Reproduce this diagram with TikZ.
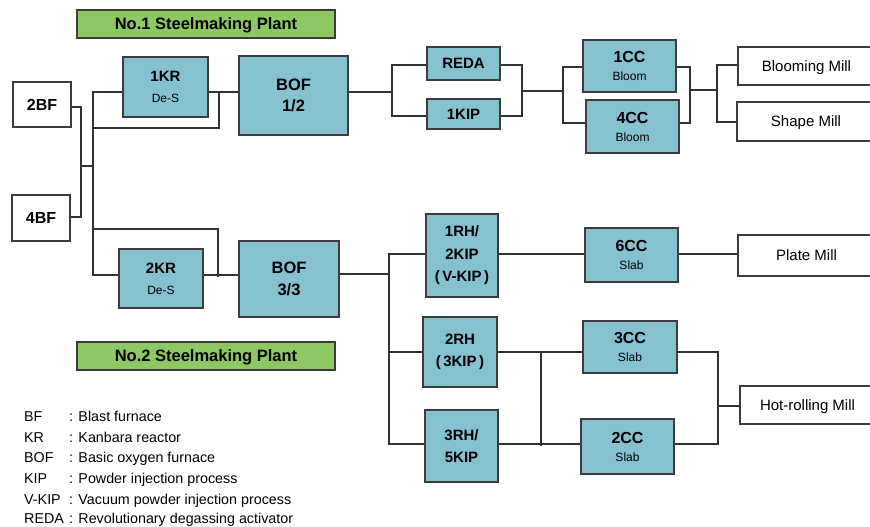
\documentclass[tikz,border=0pt]{standalone}
\usepackage{fontspec}
\setmainfont{Liberation Sans}
\definecolor{boxblue}{RGB}{134,193,208}
\definecolor{plantgreen}{RGB}{141,200,98}
\definecolor{edgec}{RGB}{60,60,60}
\definecolor{linec}{RGB}{50,50,50}
\newcommand\subtxt{\mdseries\fontsize{12}{18}\selectfont}
\begin{document}
\begin{tikzpicture}[x=1pt,y=-1pt,
  wh/.style 2 args={minimum width=#1pt,minimum height=#2pt},
  box/.style={draw=edgec,fill=boxblue,line width=1.4pt,inner sep=0pt,align=center,
    font=\bfseries\fontsize{15}{21}\selectfont},
  wbox/.style={draw=edgec,fill=white,line width=1.4pt,inner sep=0pt,align=center,text depth=0pt},
  title/.style={draw=edgec,fill=plantgreen,line width=1.4pt,inner sep=0pt,
    font=\bfseries\fontsize{16.5}{20}\selectfont,text depth=0pt},
  conn/.style={draw=linec,line width=1.2pt},
  leg/.style={anchor=base west,inner sep=0pt,font=\fontsize{14.3}{16}\selectfont}]
\useasboundingbox (0,0) rectangle (870,527);
\clip (0,0) rectangle (870,527);
\fill[white] (0,0) rectangle (870,527);

% titles
\node[title,wh={258}{28}] (t1) at (206,24) {No.1 Steelmaking Plant};
\node[title,wh={258}{28}] (t2) at (206,356) {No.2 Steelmaking Plant};

% blast furnaces
\node[wbox,wh={58}{45},font=\bfseries\fontsize{16}{20}\selectfont] (bf2) at (42,104.5) {2BF};
\node[wbox,wh={58}{46},font=\bfseries\fontsize{16}{20}\selectfont] (bf4) at (41,218) {4BF};

% plant 1
\node[box,wh={85}{60}] (kr1) at (165.5,87) {1KR\\{\subtxt De-S}};
\node[box,wh={109}{79},font=\bfseries\fontsize{16.5}{21.5}\selectfont] (bof1) at (293.5,95.5) {BOF\\1/2};
\node[box,wh={73}{33}] (reda) at (463.5,63.5) {REDA};
\node[box,wh={73}{30}] (kip1) at (463.5,114) {1KIP};
\node[box,wh={93}{52},font=\bfseries\fontsize{16}{18}\selectfont] (cc1) at (629.5,66) {1CC\\{\subtxt Bloom}};
\node[box,wh={93}{53},font=\bfseries\fontsize{16}{18}\selectfont] (cc4) at (632.5,126.5) {4CC\\{\subtxt Bloom}};
\node[wbox,wh={137}{38},font=\fontsize{15}{18}\selectfont] (blm) at (806.5,66) {Blooming Mill};
\node[wbox,wh={138}{39},font=\fontsize{15}{18}\selectfont] (shm) at (806,121.5) {Shape Mill};

% plant 2
\node[box,wh={84}{59}] (kr2) at (161,278.5) {2KR\\{\subtxt De-S}};
\node[box,wh={100}{76},font=\bfseries\fontsize{16.5}{21.5}\selectfont] (bof2) at (289,279) {BOF\\3/3};
\node[box,wh={72}{83},font=\bfseries\fontsize{15}{22.5}\selectfont] (rh1) at (462,255.5) {1RH/\\2KIP\\(\,V-KIP\,)};
\node[box,wh={74}{70},font=\bfseries\fontsize{15}{22}\selectfont] (rh2) at (460,352) {2RH\\(\,3KIP\,)};
\node[box,wh={73}{72},font=\bfseries\fontsize{15}{22}\selectfont] (rh3) at (461.5,446) {3RH/\\5KIP};
\node[box,wh={93}{54},font=\bfseries\fontsize{16}{18}\selectfont] (cc6) at (631.5,255) {6CC\\{\subtxt Slab}};
\node[box,wh={94}{52},font=\bfseries\fontsize{16}{18}\selectfont] (cc3) at (630,347) {3CC\\{\subtxt Slab}};
\node[box,wh={93}{55},font=\bfseries\fontsize{16}{18}\selectfont] (cc2) at (627.5,446.5) {2CC\\{\subtxt Slab}};
\node[wbox,wh={137}{41},font=\fontsize{15}{18}\selectfont] (plm) at (806.5,255.5) {Plate Mill};
\node[wbox,wh={135}{38},font=\fontsize{15}{18}\selectfont] (hrm) at (807.5,405) {Hot-rolling Mill};

% junction coordinates
\coordinate (j1) at (81,107);
\coordinate (j2) at (81,217);
\coordinate (j3) at (81,166);
\coordinate (j4) at (93,166);
\coordinate (ta) at (93,92);
\coordinate (tb) at (93,275);
\coordinate (p1) at (219,92);
\coordinate (p2) at (219,128);
\coordinate (p3) at (93,128);
\coordinate (q1) at (93,229);
\coordinate (q2) at (218,229);
\coordinate (q3) at (218,277);
\coordinate (o1) at (393,92);
\coordinate (r1) at (392,65);
\coordinate (r2) at (392,116);
\coordinate (r3) at (522,65);
\coordinate (r4) at (522,116);
\coordinate (r5) at (522,91);
\coordinate (r6) at (563,91);
\coordinate (c1) at (563,67);
\coordinate (c2) at (563,123);
\coordinate (c3) at (690,67);
\coordinate (c4) at (690,123);
\coordinate (c5) at (690,90);
\coordinate (m1) at (717,90);
\coordinate (m2) at (717,65);
\coordinate (m3) at (717,122);
\coordinate (o2) at (389,274);
\coordinate (s1) at (389,254);
\coordinate (s2) at (389,444);
\coordinate (s3) at (389,352);
\coordinate (v1) at (541,352);
\coordinate (v2) at (541,446);
\coordinate (h1) at (718,352);
\coordinate (h2) at (718,444);
\coordinate (h3) at (718,406);

% connectors plant 1
\draw[conn] (bf2.east |- j1) -- (j1) -- (j2) -- (bf4.east |- j2);
\draw[conn] (j3) -- (j4);
\draw[conn] (kr1.west |- ta) -- (ta) -- (tb) -- (kr2.west |- tb);
\draw[conn] (kr1.east |- ta) -- (bof1.west |- ta);
\draw[conn] (p1) -- (p2) -- (p3);
\draw[conn] (bof1.east |- ta) -- (o1);
\draw[conn] (reda.west |- r1) -- (r1) -- (r2) -- (kip1.west |- r2);
\draw[conn] (reda.east |- r3) -- (r3) -- (r4) -- (kip1.east |- r4);
\draw[conn] (r5) -- (r6);
\draw[conn] (cc1.west |- c1) -- (c1) -- (c2) -- (cc4.west |- c2);
\draw[conn] (cc1.east |- c3) -- (c3) -- (c4) -- (cc4.east |- c4);
\draw[conn] (c5) -- (m1);
\draw[conn] (blm.west |- m2) -- (m2) -- (m3) -- (shm.west |- m3);

% connectors plant 2
\draw[conn] (kr2.east |- tb) -- (bof2.west |- tb);
\draw[conn] (q1) -- (q2) -- (q3);
\draw[conn] (bof2.east |- o2) -- (o2);
\draw[conn] (rh1.west |- s1) -- (s1) -- (s2) -- (rh3.west |- s2);
\draw[conn] (s3) -- (rh2.west |- s3);
\draw[conn] (rh1.east |- s1) -- (cc6.west |- s1);
\draw[conn] (cc6.east |- s1) -- (plm.west |- s1);
\draw[conn] (rh2.east |- v1) -- (cc3.west |- v1);
\draw[conn] (rh3.east |- s2) -- (cc2.west |- s2);
\draw[conn] (v1) -- (v2);
\draw[conn] (cc3.east |- h1) -- (h1) -- (h2) -- (cc2.east |- h2);
\draw[conn] (h3) -- (hrm.west |- h3);

% legend
\node[leg] (a1) at (24,421) {BF};
\node[leg] (b1) at (69,421) {: Blast furnace};
\node[leg] (a2) at (24,442) {KR};
\node[leg] (b2) at (69,442) {: Kanbara reactor};
\node[leg] (a3) at (24,462) {BOF};
\node[leg] (b3) at (69,462) {: Basic oxygen furnace};
\node[leg] (a4) at (24,483) {KIP};
\node[leg] (b4) at (69,483) {: Powder injection process};
\node[leg] (a5) at (24,504) {V-KIP};
\node[leg] (b5) at (69,504) {: Vacuum powder injection process};
\node[leg] (a6) at (24,523) {REDA};
\node[leg] (b6) at (69,523) {: Revolutionary degassing activator};
\end{tikzpicture}
\end{document}
